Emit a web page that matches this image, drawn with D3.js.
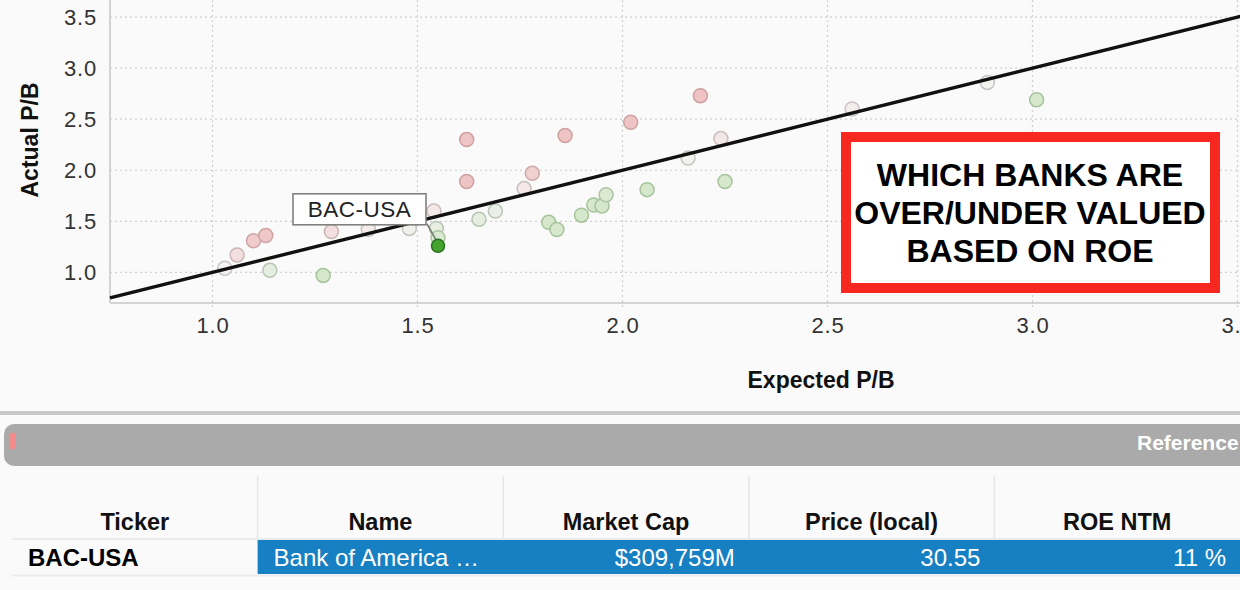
<!DOCTYPE html>
<html><head><meta charset="utf-8">
<script src="https://cdn.jsdelivr.net/npm/d3@7"></script>
<style>
body{margin:0;background:#fafafa;overflow:hidden}
text{font-family:"Liberation Sans",Arial,Helvetica,sans-serif}
</style>
</head><body><svg id="c" width="1240" height="590"></svg>
<script>
// ---- data ----
const expectedPB = [1.03,1.06,1.10,1.13,1.14,1.27,1.29,1.38,1.48,1.54,1.546,1.55,1.55,
  1.62,1.62,1.65,1.69,1.76,1.78,1.86,1.82,1.84,1.90,1.93,1.95,1.96,2.02,2.06,2.16,2.19,2.24,2.25,2.56,2.89,3.01];
const actualPB = [1.04,1.17,1.31,1.36,1.02,0.97,1.40,1.42,1.43,1.60,1.43,1.34,1.26,
  2.30,1.89,1.52,1.60,1.82,1.97,2.34,1.49,1.42,1.56,1.66,1.65,1.76,2.47,1.81,2.12,2.73,2.31,1.89,2.60,2.86,2.69];
const highlightIndex = 12;
const highlightTicker = "BAC-USA";
const xTicks = [1.0,1.5,2.0,2.5,3.0,3.5];
const yTicks = [1.0,1.5,2.0,2.5,3.0,3.5];
const fitSlope = 1.0, fitIntercept = 0.0;
const xTitle = "Expected P/B", yTitle = "Actual P/B";
const calloutLines = ["WHICH BANKS ARE","OVER/UNDER VALUED","BASED ON ROE"];
const tableColumns = ["Ticker","Name","Market Cap","Price (local)","ROE NTM"];
const tableRow = ["BAC-USA","Bank of America …","$309,759M","30.55","11 %"];
const tableAlign = ["start","start","end","end","end"];
const barLabel = "Reference";

// ---- chart ----
const svg = d3.select("#c");
const x = d3.scaleLinear().domain([0.75,3.75]).range([110,1340]);
const y = d3.scaleLinear().domain([0.70,3.667]).range([303,0]);

svg.append("rect").attr("x",-10).attr("y",-10).attr("width",1260).attr("height",422)
  .attr("rx",8).attr("fill","#fafafa");

const g = svg.append("g");
// grid
g.selectAll(".vg").data(xTicks).join("line")
  .attr("x1",d=>x(d)).attr("x2",d=>x(d)).attr("y1",0).attr("y2",y.range()[0]+7)
  .attr("stroke","#d0d0d0").attr("stroke-width",1.2).attr("stroke-dasharray","2,3");
g.selectAll(".hg").data(yTicks).join("line")
  .attr("x1",x.range()[0]).attr("x2",1240).attr("y1",d=>y(d)).attr("y2",d=>y(d))
  .attr("stroke","#d0d0d0").attr("stroke-width",1.2).attr("stroke-dasharray","2,3");
// axis lines
g.append("line").attr("x1",x.range()[0]).attr("x2",x.range()[0]).attr("y1",0).attr("y2",y.range()[0])
  .attr("stroke","#d4d4d4").attr("stroke-width",2);
g.append("line").attr("x1",x.range()[0]).attr("x2",1240).attr("y1",y.range()[0]).attr("y2",y.range()[0])
  .attr("stroke","#d4d4d4").attr("stroke-width",2);

const xAxis = d3.axisBottom(x).tickValues(xTicks).tickFormat(d3.format(".1f")).tickSize(0).tickPadding(14);
const xa = g.append("g").attr("transform",`translate(0,${y.range()[0]})`).call(xAxis);
const yAxis = d3.axisLeft(y).tickValues(yTicks).tickFormat(d3.format(".1f")).tickSize(0).tickPadding(13);
const ya = g.append("g").attr("transform",`translate(${x.range()[0]},0)`).call(yAxis);
[xa,ya].forEach(a=>{a.select(".domain").remove();
  a.selectAll("text").attr("font-size",22).attr("fill","#333").attr("font-family","Liberation Sans, Arial").style("letter-spacing","0.8px");});

// titles
svg.append("text").attr("x",821).attr("y",388).attr("text-anchor","middle")
  .attr("font-size",23).attr("font-weight","bold").attr("fill","#111").text(xTitle);
svg.append("text").attr("transform","translate(38,140) rotate(-90)").attr("text-anchor","middle")
  .attr("font-size",23).attr("font-weight","bold").attr("fill","#111").text(yTitle);

// point colours by residual from the fit
const resid = i => actualPB[i] - (fitSlope*expectedPB[i] + fitIntercept);
const fillC = d3.scaleLinear().domain([-0.25,0,0.25]).range(["#d5e8cc","#f6f4f4","#efc4c4"]).clamp(true);
const strokeC = d3.scaleLinear().domain([-0.25,0,0.25]).range(["#a6c39c","#c8c8c8","#cfa0a0"]).clamp(true);

const idx = d3.range(expectedPB.length).filter(i=>i!==highlightIndex);
g.selectAll(".pt").data(idx).join("circle")
  .attr("cx",i=>x(expectedPB[i])).attr("cy",i=>y(actualPB[i])).attr("r",7)
  .attr("fill",i=>fillC(resid(i))).attr("stroke",i=>strokeC(resid(i))).attr("stroke-width",1.5);

// fit line
const fx = [0.75,3.75];
g.append("line").attr("x1",x(fx[0])).attr("y1",y(fitSlope*fx[0]+fitIntercept))
  .attr("x2",x(fx[1])).attr("y2",y(fitSlope*fx[1]+fitIntercept))
  .attr("stroke","#111").attr("stroke-width",3.4);

// highlighted point + label
const hx = x(expectedPB[highlightIndex]), hy = y(actualPB[highlightIndex]);
g.append("line").attr("x1",hx-11).attr("y1",hy-22).attr("x2",hx-2).attr("y2",hy-6)
  .attr("stroke","#777").attr("stroke-width",1.5);
g.append("circle").attr("cx",hx).attr("cy",hy).attr("r",6.5)
  .attr("fill","#43a52f").attr("stroke","#2b6f20").attr("stroke-width",1.5);
const lb = g.append("g").attr("transform",`translate(${hx-145},${hy-52})`);
lb.append("rect").attr("width",133).attr("height",31).attr("fill","#fff").attr("stroke","#7a7a7a").attr("stroke-width",1.5);
lb.append("text").attr("x",66.5).attr("y",23.5).attr("text-anchor","middle").attr("font-size",22.5)
  .attr("fill","#222").style("letter-spacing","0.5px").text(highlightTicker);

// callout box
const cb = svg.append("g");
cb.append("rect").attr("x",846).attr("y",137).attr("width",369).attr("height",151)
  .attr("fill","#fff").attr("stroke","#f7281f").attr("stroke-width",10);
cb.selectAll("text").data(calloutLines).join("text")
  .attr("x",1030).attr("y",(d,i)=>186+i*38).attr("text-anchor","middle")
  .attr("font-size",32).attr("font-weight","bold").attr("fill","#000").text(d=>d);

// separator and grey bar
svg.append("rect").attr("x",0).attr("y",411).attr("width",1240).attr("height",4).attr("fill","#c9c9c9");
svg.append("rect").attr("x",4).attr("y",424).attr("width",1260).attr("height",42).attr("rx",10).attr("fill","#aaaaaa");
svg.append("rect").attr("x",10).attr("y",433).attr("width",6).attr("height",16).attr("fill","#f28b8b");
svg.append("text").attr("x",1137).attr("y",450).attr("font-size",21).attr("font-weight","bold").attr("fill","#fff").text(barLabel);

// table
const colX = d3.scaleBand().domain(d3.range(tableColumns.length)).range([12,1240]);
const t = svg.append("g");
t.selectAll(".sep").data(d3.range(1,tableColumns.length)).join("line")
  .attr("x1",i=>colX(i)).attr("x2",i=>colX(i)).attr("y1",476).attr("y2",538)
  .attr("stroke","#e6e6e6").attr("stroke-width",1.5);
t.append("line").attr("x1",12).attr("x2",1240).attr("y1",539).attr("y2",539).attr("stroke","#ebebeb").attr("stroke-width",2);
t.append("line").attr("x1",12).attr("x2",1240).attr("y1",575.5).attr("y2",575.5).attr("stroke","#ebebeb").attr("stroke-width",2);
t.selectAll(".hd").data(tableColumns).join("text")
  .attr("x",(d,i)=>colX(i)+colX.bandwidth()/2).attr("y",530).attr("text-anchor","middle")
  .attr("font-size",23.5).attr("font-weight","bold").attr("fill","#111").text(d=>d);
t.append("rect").attr("x",colX(1)).attr("y",540).attr("width",1240-colX(1)).attr("height",34).attr("fill","#1680c2");
t.selectAll(".cell").data(tableRow).join("text")
  .attr("x",(d,i)=> i===0 ? 28 : tableAlign[i]==="start" ? colX(i)+16 : colX(i)+colX.bandwidth()-14)
  .attr("y",566).attr("text-anchor",(d,i)=>tableAlign[i])
  .attr("font-size",24).attr("font-weight",(d,i)=>i===0?"bold":"normal")
  .attr("fill",(d,i)=>i===0?"#000":"#fff").text(d=>d);
</script></body></html>
